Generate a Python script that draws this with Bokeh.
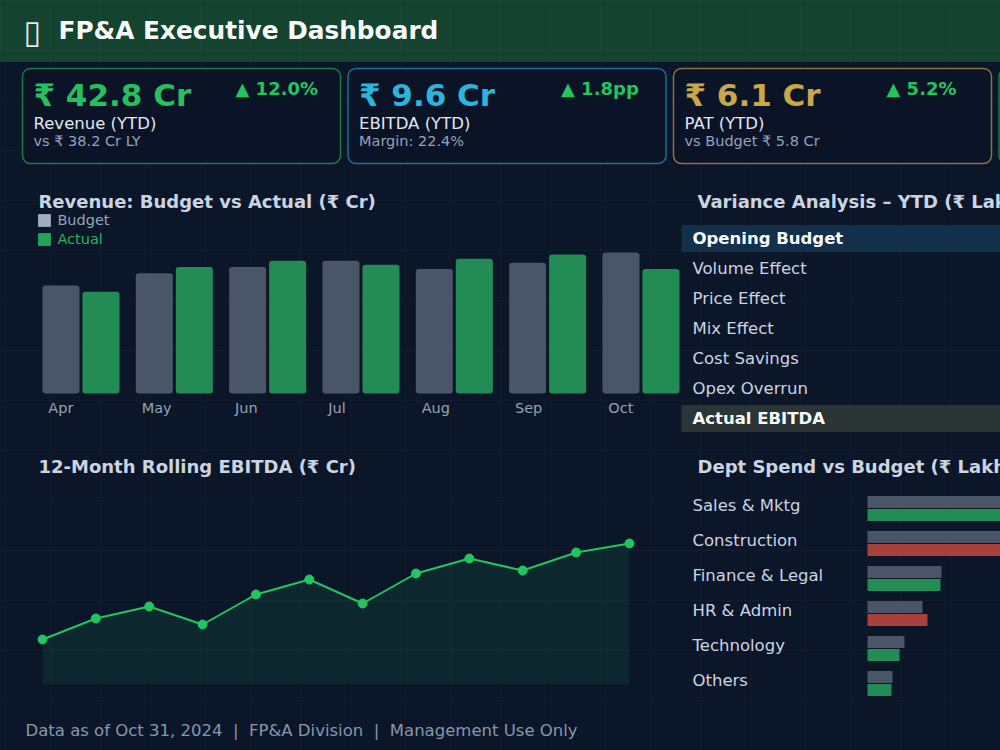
from bokeh.plotting import figure
from bokeh.layouts import column, row
from bokeh.models import Range1d, ColumnDataSource, Legend, LegendItem
from bokeh.transform import dodge
from bokeh.core.properties import value
from bokeh.embed import file_html
from bokeh.resources import INLINE

FONT = value("DejaVu Sans")

# ---------------- data ----------------
dashboard_title = "FP&A Executive Dashboard"
kpi_values = ["₹ 42.8 Cr", "₹ 9.6 Cr", "₹ 6.1 Cr"]
kpi_changes = ["▲ 12.0%", "▲ 1.8pp", "▲ 5.2%"]
kpi_labels = ["Revenue (YTD)", "EBITDA (YTD)", "PAT (YTD)"]
kpi_subs = ["vs ₹ 38.2 Cr LY", "Margin: 22.4%", "vs Budget ₹ 5.8 Cr"]

months = ["Apr", "May", "Jun", "Jul", "Aug", "Sep", "Oct"]
budget_rev = [5.2, 5.8, 6.1, 6.4, 6.0, 6.3, 6.8]
actual_rev = [4.9, 6.1, 6.4, 6.2, 6.5, 6.7, 6.0]

variance_items = ["Opening Budget", "Volume Effect", "Price Effect", "Mix Effect",
                  "Cost Savings", "Opex Overrun", "Actual EBITDA"]
variance_is_total = [True, False, False, False, False, False, True]

rolling_months = ["Nov", "Dec", "Jan", "Feb", "Mar", "Apr", "May", "Jun", "Jul", "Aug", "Sep", "Oct"]
rolling_ebitda = [13.5, 14.2, 14.6, 14.0, 15.0, 15.5, 14.7, 15.7, 16.2, 15.8, 16.4, 16.7]
ebitda_floor = 12.0

depts = ["Sales & Mktg", "Construction", "Finance & Legal", "HR & Admin", "Technology", "Others"]
dept_budget = [420, 380, 148, 110, 74, 50]
dept_actual = [410, 400, 146, 120, 64, 48]

NB = "\u00a0"
footer_text = f"Data as of Oct 31, 2024{NB}{NB}|{NB}{NB}FP&A Division{NB}{NB}|{NB}{NB}Management Use Only"

# ---------------- styles ----------------
BG = "#0b1628"
TITLE_C = "#cbd5e1"
MUTED = "#94a3b8"
GREEN = "#22c55e"
BAR_BUDGET = "#4a5568"
BAR_ACTUAL = "#238c55"
BAR_OVER = "#a8403b"


def panel(width, height, x_range, y_range, px_x, px_y, **kw):
    opts = dict(width=width, height=height, x_range=x_range, y_range=y_range,
                output_backend="svg", toolbar_location=None,
                x_axis_location=None, y_axis_location=None,
                min_border=0, min_border_left=0, min_border_right=0,
                min_border_top=0, min_border_bottom=0,
                background_fill_color=None, border_fill_color=None,
                outline_line_color=None)
    opts.update(kw)
    p = figure(**opts)
    p.grid.visible = False
    p.extra_x_ranges = {"px": Range1d(*px_x)}
    p.extra_y_ranges = {"px": Range1d(*px_y)}
    return p


def txt(p, x, y, texts, size, color, bold=False, align="left", xr="px", yr="px", y_offset=0):
    kw = {}
    if xr:
        kw["x_range_name"] = xr
    if yr:
        kw["y_range_name"] = yr
    p.text(x=x, y=y, text=texts, text_font=FONT, text_font_size=size,
           text_font_style="bold" if bold else "normal", text_color=color,
           text_align=align, text_baseline="middle", y_offset=y_offset, **kw)


# ---------------- header ----------------
p_head = panel(1000, 62, Range1d(0, 1000), Range1d(62, 0), (0, 1000), (62, 0))
txt(p_head, [23], [31], ["▯"], "32px", "#e5e7eb")
txt(p_head, [58], [29.5], [dashboard_title], "24.8px", "#f8fafc", bold=True)

# ---------------- KPI cards ----------------
p_kpi = panel(1000, 113, Range1d(0, 1000), Range1d(175, 62), (0, 1000), (175, 62))
card_left = [22 + 325.5 * i for i in range(4)]
card_border = ["#1f7a48", "#1d6f93", "#8a7444", "#1f7a48"]
p_kpi.quad(left=card_left, right=[l + 318 for l in card_left], top=[68] * 4, bottom=[163] * 4,
           x_range_name="px", y_range_name="px", fill_color="#0a1426",
           line_color=card_border, line_width=1.5, border_radius=8)
value_colors = ["#25c060", "#2bb4dc", "#c9a84b"]
L3 = card_left[:3]
txt(p_kpi, [l + 11 for l in L3], [94] * 3, kpi_values, "31px", value_colors, bold=True)
txt(p_kpi, [l + 213 for l in L3], [88] * 3, kpi_changes, "18px", GREEN, bold=True)
txt(p_kpi, [l + 11 for l in L3], [123] * 3, kpi_labels, "16.5px", "#e2e8f0")
txt(p_kpi, [l + 11 for l in L3], [140.5] * 3, kpi_subs, "14.5px", MUTED)

# ---------------- revenue bars ----------------
BAR_PX = 20.75      # px per Cr
SLOT = 93.33        # px per month
p_bar = panel(680, 265, Range1d(-80.5 / SLOT, (680 - 80.5) / SLOT),
              Range1d(-(440 - 393) / BAR_PX, (393 - 175) / BAR_PX),
              (0, 680), (440, 175))
src_rev = ColumnDataSource(dict(idx=list(range(len(months))), month=months,
                                budget=budget_rev, actual=actual_rev))
p_bar.vbar(x=dodge("idx", -0.2143), top="budget", width=0.397, source=src_rev,
           fill_color=BAR_BUDGET, line_color=None, border_radius=3)
p_bar.vbar(x=dodge("idx", 0.2143), top="actual", width=0.397, source=src_rev,
           fill_color=BAR_ACTUAL, line_color=None, border_radius=3)
# month labels (category axis)
p_bar.text(x=dodge("idx", -0.35), y=407, text="month", source=src_rev, y_range_name="px",
           text_font=FONT, text_font_size="14.5px", text_color=MUTED,
           text_align="left", text_baseline="middle")
txt(p_bar, [38], [201], ["Revenue: Budget vs Actual (₹ Cr)"], "18px", TITLE_C, bold=True)

# legend keys (zero-height bars, only their swatches show in the legend)
r_lb = p_bar.vbar(x=[0], top=[0], width=0.01, fill_color="#a0aec0", line_color=None)
r_la = p_bar.vbar(x=[0], top=[0], width=0.01, fill_color="#25a35a", line_color=None)
for rend, lab, col, vy in [(r_lb, "Budget", MUTED, 440 - 227.6), (r_la, "Actual", "#27b35f", 440 - 246.6)]:
    lg = Legend(items=[LegendItem(label=lab, renderers=[rend])], location=(36.4, vy),
                label_text_color=col, label_text_font="DejaVu Sans", label_text_font_size="14.5px",
                glyph_width=16, glyph_height=16, label_height=16, label_standoff=5,
                padding=0, margin=0, spacing=0, background_fill_alpha=0, border_line_alpha=0)
    p_bar.add_layout(lg)

# ---------------- variance table ----------------
ROW = 30.0
p_var = panel(320, 265, Range1d(680, 1000), Range1d((440 - 238) / ROW, (175 - 238) / ROW),
              (680, 1000), (440, 175))
tot_idx = [i for i, t in enumerate(variance_is_total) if t]
p_var.hbar(y=tot_idx, left=681, right=1400, height=27 / ROW,
           fill_color=["#12304a", "#2b3535"][:len(tot_idx)], line_color=None)
norm_idx = [i for i, t in enumerate(variance_is_total) if not t]
txt(p_var, [692] * len(norm_idx), norm_idx, [variance_items[i] for i in norm_idx],
    "16.5px", TITLE_C, yr=None)
txt(p_var, [692] * len(tot_idx), tot_idx, [variance_items[i] for i in tot_idx],
    "16.5px", "#f8fafc", bold=True, yr=None)
txt(p_var, [697], [201], ["Variance Analysis – YTD (₹ Lakh)"], "18px", TITLE_C, bold=True)

# ---------------- rolling EBITDA ----------------
LX = 53.36
LY = 30.0
p_line = panel(680, 260, Range1d(-42 / LX, (680 - 42) / LX),
               Range1d(ebitda_floor - 16 / LY, ebitda_floor + 244 / LY), (0, 680), (700, 440))
src_roll = ColumnDataSource(dict(idx=list(range(len(rolling_months))), month=rolling_months,
                                 v=rolling_ebitda, floor=[ebitda_floor] * len(rolling_months)))
p_line.varea(x="idx", y1="floor", y2="v", source=src_roll, fill_color=GREEN, fill_alpha=0.1)
p_line.line(x="idx", y="v", source=src_roll, line_color=GREEN, line_width=2)
p_line.scatter(x="idx", y="v", source=src_roll, size=9, fill_color=GREEN, line_color=GREEN)
txt(p_line, [38], [466], ["12-Month Rolling EBITDA (₹ Cr)"], "18px", TITLE_C, bold=True)

# ---------------- dept spend ----------------
DX = 0.5   # px per Lakh
DY = 35.0
p_dept = panel(320, 260, Range1d((680 - 867) / DX, (1000 - 867) / DX),
               Range1d((700 - 508) / DY, (440 - 508) / DY), (680, 1000), (700, 440))
src_dept = ColumnDataSource(dict(
    idx=list(range(len(depts))), dept=depts, budget=dept_budget, actual=dept_actual,
    color=[BAR_OVER if a > b else BAR_ACTUAL for a, b in zip(dept_actual, dept_budget)]))
p_dept.hbar(y=dodge("idx", -6.5 / DY), left=0, right="budget", height=12 / DY, source=src_dept,
            fill_color=BAR_BUDGET, line_color=None)
p_dept.hbar(y=dodge("idx", 6.5 / DY), left=0, right="actual", height=12 / DY, source=src_dept,
            fill_color="color", line_color=None)
txt(p_dept, [692] * len(depts), list(range(len(depts))), depts, "16.5px", TITLE_C, yr=None, y_offset=-3)
txt(p_dept, [697], [466], ["Dept Spend vs Budget (₹ Lakh)"], "18px", TITLE_C, bold=True)

# ---------------- footer ----------------
p_foot = panel(1000, 50, Range1d(0, 1000), Range1d(750, 700), (0, 1000), (750, 700))
txt(p_foot, [25], [729.7], [footer_text], "16.5px", "#8796ab")

grid_css = ("linear-gradient(rgba(255,255,255,0.025) 1px, transparent 1px), "
            "linear-gradient(90deg, rgba(255,255,255,0.025) 1px, transparent 1px), "
            "linear-gradient(#14432f, #14432f)")
layout = column(p_head, p_kpi, row(p_bar, p_var), row(p_line, p_dept), p_foot,
                styles={"background-color": BG, "background-image": grid_css,
                        "background-size": "50px 50px, 50px 50px, 100% 62px",
                        "background-repeat": "repeat, repeat, no-repeat"})

open("out.html", "w").write(file_html(layout, INLINE))
